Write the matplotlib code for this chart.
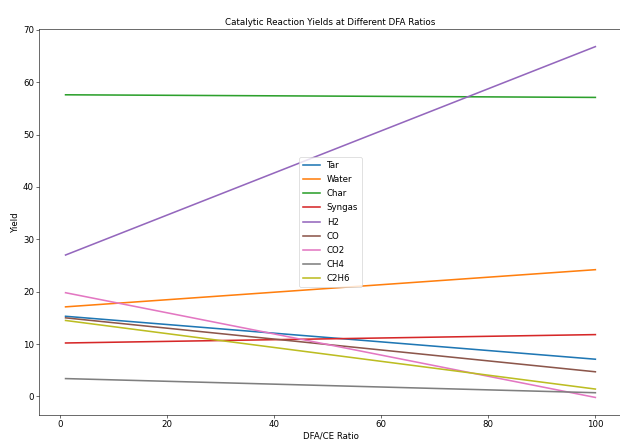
import numpy as np
import matplotlib.pyplot as plt

# DFA/CE ratio endpoints of each series
ratios = [1, 100]

tar = [15.3, 7.1]
water = [17.1, 24.2]
char = [57.6, 57.1]
syngas = [10.2, 11.8]
h2 = [27.0, 66.8]
co = [15.0, 4.7]
co2 = [19.8, -0.2]
ch4 = [3.4, 0.7]
c2h6 = [14.5, 1.4]

series = [
    ('Tar', tar),
    ('Water', water),
    ('Char', char),
    ('Syngas', syngas),
    ('H2', h2),
    ('CO', co),
    ('CO2', co2),
    ('CH4', ch4),
    ('C2H6', c2h6),
]

plt.rcParams['font.size'] = 12

fig, ax = plt.subplots(figsize=(12, 8.536), dpi=620 / 12)
for nombre, valores in series:
    ax.plot(ratios, valores, label=nombre, linewidth=2.2)

ax.set_title('Catalytic Reaction Yields at Different DFA Ratios', fontsize=12.2)
ax.set_xlabel('DFA/CE Ratio')
ax.set_ylabel('Yield')
ax.legend(loc='center', labelspacing=0.6)
# la figura queda recortada por la derecha, sin borde derecho visible
ax.spines['right'].set_visible(False)
fig.subplots_adjust(left=0.063, right=1.003, bottom=0.059, top=0.934)
fig.savefig('out.png', dpi=620 / 12)
